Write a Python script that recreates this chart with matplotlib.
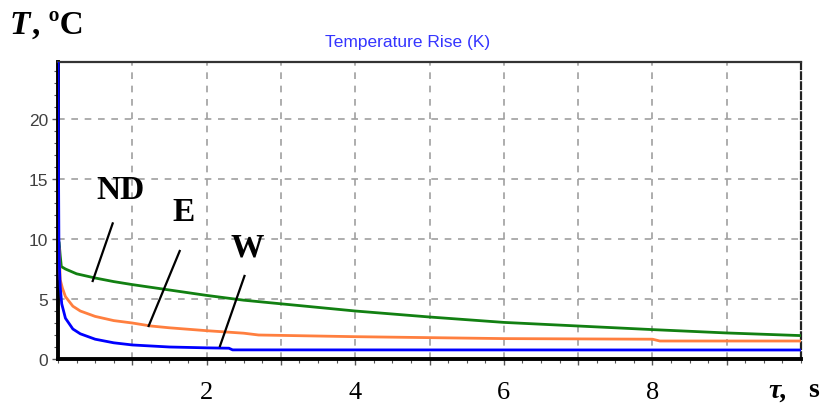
import matplotlib
matplotlib.use('Agg')
from matplotlib import pyplot as plt
from matplotlib.ticker import MultipleLocator

# data: time (s) and temperature rise (K)
t_nd = [0.0, 0.015, 0.03, 0.045, 0.1, 0.25, 0.5, 0.75, 1.0, 1.5, 2.0, 2.5, 3.0, 3.5, 4.0,
        5.0, 6.0, 7.0, 8.0, 9.0, 10.0]
T_nd = [10.0, 9.7, 8.6, 7.7, 7.5, 7.1, 6.75, 6.45, 6.2, 5.75, 5.3, 4.9, 4.6, 4.3, 4.0,
        3.5, 3.05, 2.75, 2.45, 2.17, 1.95]

t_e = [0.0, 0.015, 0.03, 0.06, 0.1, 0.2, 0.3, 0.5, 0.75, 1.0, 1.25, 1.5, 2.0, 2.5, 2.7,
       4.0, 6.0, 8.0, 8.1, 10.0]
T_e = [9.5, 9.2, 6.6, 5.9, 5.2, 4.4, 4.0, 3.55, 3.2, 3.0, 2.75, 2.6, 2.36, 2.15, 2.0,
       1.86, 1.7, 1.65, 1.5, 1.5]

t_w = [0.0, 0.005, 0.012, 0.02, 0.03, 0.05, 0.1, 0.2, 0.3, 0.5, 0.75, 1.0, 1.5, 2.0, 2.3,
       2.35, 10.0]
T_w = [30.0, 18.0, 10.0, 7.5, 6.0, 4.6, 3.4, 2.5, 2.1, 1.65, 1.35, 1.17, 1.0, 0.93, 0.9,
       0.76, 0.75]

x_ticks = [1, 2, 3, 4, 5, 6, 7, 8, 9]
x_labels = ['', '2', '', '4', '', '6', '', '8', '']
y_ticks = [0, 5, 10, 15, 20]

fig = plt.figure(figsize=(8.3, 4.14), dpi=100)
ax = fig.add_axes([58 / 830, 1 - 360 / 414, 743 / 830, 297 / 414])

ax.plot(t_nd, T_nd, color='#128012', lw=2.0, zorder=3)
ax.plot(t_e, T_e, color='#ff7f3f', lw=2.0, zorder=3)
ax.plot(t_w, T_w, color='#0000ff', lw=2.0, zorder=4)

ax.set_xlim(0, 10)
ax.set_ylim(0, 24.75)

ax.set_xticks(x_ticks)
ax.set_xticklabels(x_labels, fontfamily='Liberation Serif', fontsize=19, color='black')
ax.set_yticks(y_ticks)
ax.set_yticklabels([str(v) for v in y_ticks], fontfamily='Liberation Sans',
                   fontsize=12.5, color='#404040')
ax.xaxis.set_minor_locator(MultipleLocator(0.25))
ax.yaxis.set_minor_locator(MultipleLocator(1))
ax.tick_params(axis='x', which='major', length=4, width=1, color='#555555', pad=12)
ax.tick_params(axis='y', which='major', length=4, width=1, color='#555555', pad=3)
ax.tick_params(which='minor', length=3, width=0.8, color='#555555')

ax.grid(True, which='major', color='#a0a0a0', linestyle=(0, (4, 4)), lw=1.2)

ax.spines['left'].set_linewidth(2.8)
ax.spines['bottom'].set_linewidth(2.8)
ax.spines['left'].set_color('black')
ax.spines['bottom'].set_color('black')
ax.spines['top'].set_linewidth(1.6)
ax.spines['top'].set_color('#333333')
ax.spines['right'].set_linewidth(1.6)
ax.spines['right'].set_color('#222222')
ax.spines['right'].set_linestyle((0, (3, 1.5)))

# curve labels with leader lines
labels = [('ND', (0.845, 14.1), (0.736, 11.3), (0.467, 6.5)),
          ('E', (1.69, 12.25), (1.638, 9.0), (1.22, 2.75)),
          ('W', (2.54, 9.33), (2.51, 6.92), (2.18, 1.08))]
for name, txt_xy, p1, p2 in labels:
    ax.text(txt_xy[0], txt_xy[1], name, fontfamily='Liberation Serif', fontweight='bold',
            fontsize=24, ha='center', va='center', zorder=5)
    ax.plot([p1[0], p2[0]], [p1[1], p2[1]], color='black', lw=1.6, zorder=5)

# titles and axis names
fig.text(408 / 830, 1 - 43 / 414, 'Temperature Rise (K)', color='#3535ff',
         fontfamily='Liberation Sans', fontsize=12.5, ha='center', va='center')
fig.text(10 / 830, 1 - 25 / 414, 'T', fontfamily='Liberation Serif', fontweight='bold',
         fontstyle='italic', fontsize=24, ha='left', va='center')
fig.text(32 / 830, 1 - 25 / 414, ', ºC', fontfamily='Liberation Serif', fontweight='bold',
         fontsize=24, ha='left', va='center')
fig.text(768 / 830, 1 - 391 / 414, 'τ,', fontfamily='Liberation Serif', fontweight='bold',
         fontstyle='italic', fontsize=20, ha='left', va='center')
fig.text(808 / 830, 1 - 391 / 414, 's', fontfamily='Liberation Serif', fontweight='bold',
         fontsize=20, ha='left', va='center')

plt.savefig('out.png', dpi=100)
